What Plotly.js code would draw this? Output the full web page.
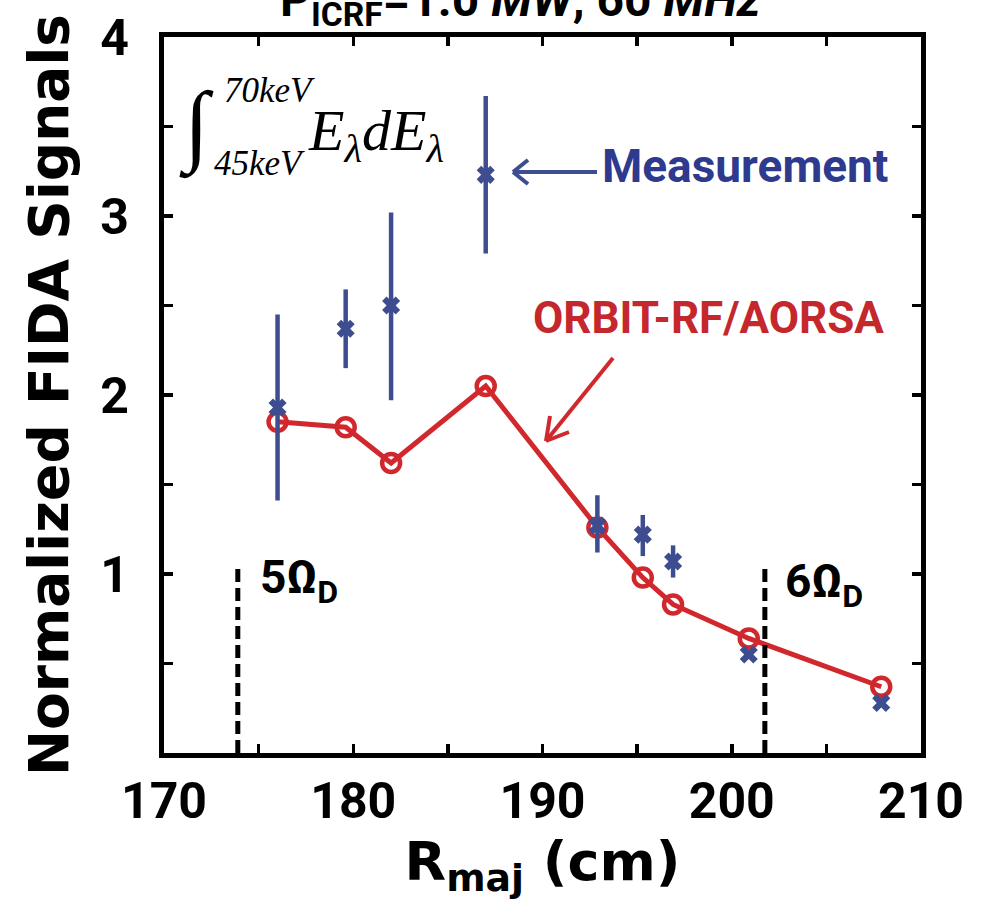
<!DOCTYPE html>
<html>
<head>
<meta charset="utf-8">
<script src="https://cdn.plot.ly/plotly-3.0.1.min.js"></script>
<style>html,body{margin:0;padding:0;background:#fff;}#chart{width:984px;height:900px;}</style>
</head>
<body>
<div id="chart"></div>
<script>
// ---- data ----
const measR      = [176.0, 179.6, 182.0, 187.0, 192.9, 195.3, 196.9, 200.9, 207.9];
const measSignal = [1.93, 2.37, 2.50, 3.23, 1.27, 1.22, 1.07, 0.55, 0.28];
const measErrUp  = [0.52, 0.22, 0.52, 0.44, 0.17, 0.11, 0.09, 0.0, 0.0];
const measErrDn  = [0.52, 0.22, 0.53, 0.44, 0.15, 0.12, 0.09, 0.0, 0.0];
const simR       = [176.0, 179.6, 182.0, 187.0, 192.9, 195.3, 196.9, 200.9, 207.9];
const simSignal  = [1.85, 1.82, 1.62, 2.05, 1.26, 0.98, 0.83, 0.64, 0.37];
const resR       = [173.9, 201.75];
const resTop     = [1.06, 1.06];
const resLabels  = ['5Ω<sub>D</sub>', '6Ω<sub>D</sub>'];
const xTickVals  = [170, 175, 180, 185, 190, 195, 200, 205, 210];
const xTickText  = ['170', '', '180', '', '190', '', '200', '', '210'];
const yTickVals  = [0.5, 1, 1.5, 2, 2.5, 3, 3.5, 4];
const yTickText  = ['', '1', '', '2', '', '3', '', '4'];

const BLUE = '#3d4d8f', BLUE_T = '#2d3a8e', RED = '#d1282d', RED_T = '#c4272c';

// pixel helpers for placing annotations only
const X = px => 170 + (px - 164) * 40 / 757;
const Y = py => (753 - py) * 4 / 716;

const traces = [
  {
    x: simR, y: simSignal, type: 'scatter', mode: 'lines+markers',
    line: {color: RED, width: 5},
    marker: {symbol: 'circle-open', size: 18, color: RED, line: {width: 4.5, color: RED}},
    hoverinfo: 'skip'
  },
  {
    x: measR, y: measSignal, type: 'scatter', mode: 'markers',
    marker: {symbol: 'x', size: 16, color: BLUE, line: {width: 0}},
    error_y: {type: 'data', symmetric: false, array: measErrUp, arrayminus: measErrDn,
              color: BLUE, thickness: 4.5, width: 0},
    hoverinfo: 'skip'
  }
];

const shapes = resR.map((r, i) => ({
  type: 'line', xref: 'x', yref: 'y', x0: r, x1: r, y0: 0, y1: resTop[i],
  line: {color: 'black', width: 5, dash: '13px,6px'}
}));
// arrows
const arrowLine = (x0, y0, x1, y1, c) => ({type: 'line', xref: 'x', yref: 'y',
  x0: X(x0), y0: Y(y0), x1: X(x1), y1: Y(y1), line: {color: c, width: 4}});
shapes.push(arrowLine(597, 172, 513, 172, BLUE));
shapes.push(arrowLine(513, 172, 528, 160, BLUE));
shapes.push(arrowLine(513, 172, 528, 184, BLUE));
shapes.push(arrowLine(613, 358, 546, 441, RED));
shapes.push(arrowLine(546, 441, 550, 416, RED));
shapes.push(arrowLine(546, 441, 569, 432, RED));

const bold = (fam, size, color) => ({family: fam, size: size, color: color || 'black', weight: 700});

const annotations = [
  {xref: 'paper', yref: 'paper', x: (520 - 164) / 757, y: (753 - 36) / 716, xanchor: 'center', yanchor: 'bottom',
   text: 'P<sub>ICRF</sub>=1.0 <i>MW</i>, 60 <i>MHz</i>', showarrow: false, font: bold('Roboto', 48)},
  {x: X(600), y: Y(166), xanchor: 'left', yanchor: 'middle', text: 'Measurement', showarrow: false,
   font: bold('Roboto', 46, BLUE_T)},
  {x: X(531), y: Y(318), xanchor: 'left', yanchor: 'middle', text: 'ORBIT-RF/AORSA', showarrow: false,
   font: bold('Roboto', 44, RED_T)},
  {x: X(258), y: Y(580), xanchor: 'left', yanchor: 'middle', text: resLabels[0], showarrow: false,
   font: bold('Roboto', 46)},
  {x: X(783), y: Y(584), xanchor: 'left', yanchor: 'middle', text: resLabels[1], showarrow: false,
   font: bold('Roboto', 46)},
  {x: X(196), y: Y(126), xanchor: 'center', yanchor: 'middle', text: '∫', showarrow: false,
   font: {family: 'Liberation Serif', size: 90, color: 'black'}},
  {x: X(222), y: Y(90), xanchor: 'left', yanchor: 'middle', text: '<i>70keV</i>', showarrow: false,
   font: {family: 'Liberation Serif', size: 35, color: 'black'}},
  {x: X(212), y: Y(163), xanchor: 'left', yanchor: 'middle', text: '<i>45keV</i>', showarrow: false,
   font: {family: 'Liberation Serif', size: 35, color: 'black'}},
  {x: X(306), y: Y(134), xanchor: 'left', yanchor: 'middle', text: '<i>E<sub>λ</sub>dE<sub>λ</sub></i>', showarrow: false,
   font: {family: 'Liberation Serif', size: 58, color: 'black'}}
];

const axisCommon = {
  showgrid: false, zeroline: false, showline: true, linecolor: 'black', linewidth: 5,
  mirror: 'ticks', ticks: 'inside', ticklen: 9, tickwidth: 3.5, tickcolor: 'black',
  tickmode: 'array', tickfont: bold('Roboto', 50)
};

const layout = {
  width: 984, height: 900,
  margin: {l: 164, r: 63, t: 37, b: 147, pad: 0},
  paper_bgcolor: 'white', plot_bgcolor: 'white', showlegend: false,
  xaxis: Object.assign({}, axisCommon, {range: [170, 210], tickvals: xTickVals, ticktext: xTickText,
    title: {text: 'R<sub>maj</sub> (cm)', font: bold('DejaVu Sans', 54), standoff: 12}}),
  yaxis: Object.assign({}, axisCommon, {range: [0, 4], tickvals: yTickVals, ticktext: yTickText,
    ticklabelstandoff: 20,
    title: {text: 'Normalized FIDA Signals', font: bold('DejaVu Sans', 55), standoff: 16}}),
  shapes: shapes,
  annotations: annotations
};

Plotly.newPlot('chart', traces, layout, {displayModeBar: false, staticPlot: true});
</script>
</body>
</html>
